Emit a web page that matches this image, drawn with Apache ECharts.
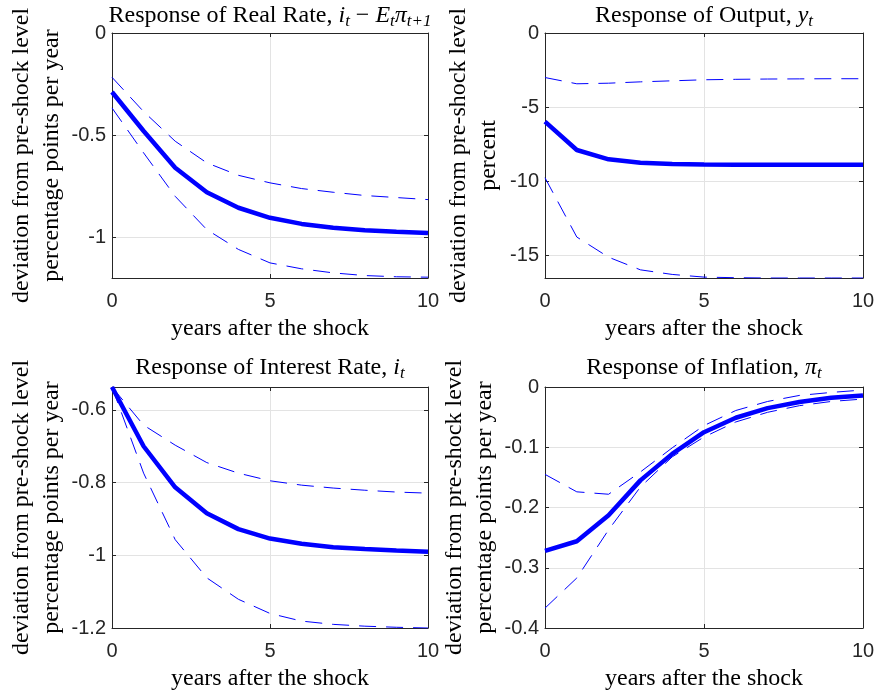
<!DOCTYPE html>
<html>
<head>
<meta charset="utf-8">
<script src="https://cdn.jsdelivr.net/npm/echarts@6/dist/echarts.min.js"></script>
<style>
html,body{margin:0;padding:0;background:#fff;}
#chart{width:878px;height:693px;}
</style>
</head>
<body>
<div id="chart"></div>
<script>
// ---- data ----
const years = [0,1,2,3,4,5,6,7,8,9,10];
const xTicks = [0,5,10];

const realRate      = [-0.289,-0.48,-0.66,-0.78,-0.856,-0.905,-0.935,-0.954,-0.966,-0.974,-0.979];
const realRateUpper = [-0.217,-0.385,-0.53,-0.636,-0.697,-0.734,-0.762,-0.78,-0.796,-0.806,-0.816];
const realRateLower = [-0.367,-0.587,-0.80,-0.963,-1.06,-1.126,-1.155,-1.175,-1.188,-1.194,-1.196];
const realRateTicks = [-1,-0.5,0];

const output      = [-5.97,-7.88,-8.51,-8.74,-8.83,-8.86,-8.87,-8.87,-8.87,-8.87,-8.87];
const outputUpper = [-3.0,-3.42,-3.38,-3.29,-3.22,-3.15,-3.12,-3.1,-3.09,-3.08,-3.08];
const outputLower = [-9.75,-13.74,-15.1,-15.95,-16.26,-16.44,-16.48,-16.5,-16.5,-16.5,-16.5];
const outputTicks = [-15,-10,-5,0];

const interest      = [-0.537,-0.70,-0.813,-0.884,-0.928,-0.954,-0.968,-0.978,-0.983,-0.987,-0.99];
const interestUpper = [-0.537,-0.642,-0.697,-0.745,-0.774,-0.795,-0.807,-0.815,-0.821,-0.826,-0.829];
const interestLower = [-0.537,-0.774,-0.957,-1.062,-1.121,-1.16,-1.181,-1.19,-1.195,-1.198,-1.2];
const interestTicks = [-1.2,-1,-0.8,-0.6];

const inflation      = [-0.272,-0.256,-0.213,-0.155,-0.111,-0.075,-0.051,-0.035,-0.025,-0.018,-0.014];
const inflationUpper = [-0.145,-0.174,-0.178,-0.141,-0.101,-0.064,-0.039,-0.024,-0.014,-0.009,-0.005];
const inflationLower = [-0.367,-0.317,-0.237,-0.166,-0.116,-0.083,-0.058,-0.042,-0.031,-0.024,-0.02];
const inflationTicks = [-0.4,-0.3,-0.2,-0.1,0];

// ---- styling / layout ----
const SERIF = 'Liberation Serif';
const SANS = 'Liberation Sans';
const AX = '#262626';
const BLUE = '#0000ff';

const panels = [
  {grid:{left:112,top:33,width:316,height:245}, ymin:-1.2, ymax:0, yticks:realRateTicks,
   mid:realRate, up:realRateUpper, lo:realRateLower,
   yname:'deviation from pre-shock level\npercentage points per year', nameGap:45,
   title:'{r|Response of Real Rate, }{m|i}{s|t}{r| − }{m|E}{s|t}{m|π}{s|t+1}', tx:270, ty:2},
  {grid:{left:545,top:33,width:318,height:245}, ymin:-16.5, ymax:0, yticks:outputTicks,
   mid:output, up:outputUpper, lo:outputLower,
   yname:'deviation from pre-shock level\npercent', nameGap:41,
   title:'{r|Response of Output, }{m|y}{s|t}', tx:704, ty:2},
  {grid:{left:112,top:387,width:316,height:242}, ymin:-1.2, ymax:-0.537, yticks:interestTicks,
   mid:interest, up:interestUpper, lo:interestLower,
   yname:'deviation from pre-shock level\npercentage points per year', nameGap:45,
   title:'{r|Response of Interest Rate, }{m|i}{s|t}', tx:270, ty:354},
  {grid:{left:545,top:387,width:318,height:242}, ymin:-0.4, ymax:0, yticks:inflationTicks,
   mid:inflation, up:inflationUpper, lo:inflationLower,
   yname:'deviation from pre-shock level\npercentage points per year', nameGap:45,
   title:'{r|Response of Inflation, }{m|π}{s|t}', tx:704, ty:354}
];

const rich = {
  r:{fontFamily:SERIF,fontSize:24,fontWeight:'normal',color:'#000',lineHeight:28,verticalAlign:'middle'},
  m:{fontFamily:SERIF,fontSize:24,fontWeight:'normal',fontStyle:'italic',color:'#000',lineHeight:28,verticalAlign:'middle'},
  s:{fontFamily:SERIF,fontSize:17,fontWeight:'normal',fontStyle:'italic',color:'#000',lineHeight:14,verticalAlign:'bottom'}
};

const grids=[], xAxes=[], yAxes=[], series=[], titles=[];
const pairs = arr => years.map((x,i)=>[x,arr[i]]);

panels.forEach((p,g)=>{
  grids.push(Object.assign({containLabel:false}, p.grid));
  titles.push({text:p.title, left:p.tx, top:p.ty, textAlign:'center', padding:0,
               textStyle:{fontWeight:'normal',fontFamily:SERIF,fontSize:24,rich:rich}});
  const tick = {show:true, inside:true, length:4, lineStyle:{color:AX,width:1}};
  xAxes.push({gridIndex:g, type:'value', min:0, max:10, interval:5, position:'bottom',
    axisLine:{show:true,onZero:false,lineStyle:{color:AX,width:1}},
    axisTick:Object.assign({customValues:xTicks},tick),
    axisLabel:{customValues:xTicks,color:AX,fontFamily:SANS,fontSize:20,margin:13},
    splitLine:{show:true,lineStyle:{color:'#e3e3e3',width:1}},
    name:'years after the shock', nameLocation:'middle', nameGap:38,
    nameTextStyle:{fontFamily:SERIF,fontSize:24,color:'#000',lineHeight:26}});
  xAxes.push({gridIndex:g, type:'value', min:0, max:10, interval:5, position:'top',
    axisLine:{show:true,onZero:false,lineStyle:{color:AX,width:1}},
    axisTick:Object.assign({customValues:xTicks},tick), axisLabel:{show:false}, splitLine:{show:false}});
  yAxes.push({gridIndex:g, type:'value', min:p.ymin, max:p.ymax, position:'left',
    axisLine:{show:true,onZero:false,lineStyle:{color:AX,width:1}},
    axisTick:Object.assign({customValues:p.yticks},tick),
    axisLabel:{customValues:p.yticks,color:AX,fontFamily:SANS,fontSize:20,margin:6},
    splitLine:{show:true,lineStyle:{color:'#e3e3e3',width:1}},
    name:p.yname, nameLocation:'middle', nameRotate:90, nameGap:p.nameGap,
    nameTextStyle:{fontFamily:SERIF,fontSize:24,color:'#000',lineHeight:30,align:'center'}});
  yAxes.push({gridIndex:g, type:'value', min:p.ymin, max:p.ymax, position:'right',
    axisLine:{show:true,onZero:false,lineStyle:{color:AX,width:1}},
    axisTick:Object.assign({customValues:p.yticks},tick),
    axisLabel:{show:false}, splitLine:{show:false}});
  const base = {type:'line', xAxisIndex:2*g, yAxisIndex:2*g, showSymbol:false, symbol:'none',
                silent:true, animation:false, clip:true};
  series.push(Object.assign({}, base, {data:pairs(p.up), z:2,
    lineStyle:{color:BLUE,width:1,type:[17,10]}}));
  series.push(Object.assign({}, base, {data:pairs(p.lo), z:2,
    lineStyle:{color:BLUE,width:1,type:[17,10]}}));
  series.push(Object.assign({}, base, {data:pairs(p.mid), z:3,
    lineStyle:{color:BLUE,width:4.5,type:'solid'}}));
});

const chart = echarts.init(document.getElementById('chart'), null, {renderer:'canvas'});
chart.setOption({
  backgroundColor:'#fff',
  animation:false,
  title:titles,
  grid:grids,
  xAxis:xAxes,
  yAxis:yAxes,
  series:series
});
</script>
</body>
</html>
